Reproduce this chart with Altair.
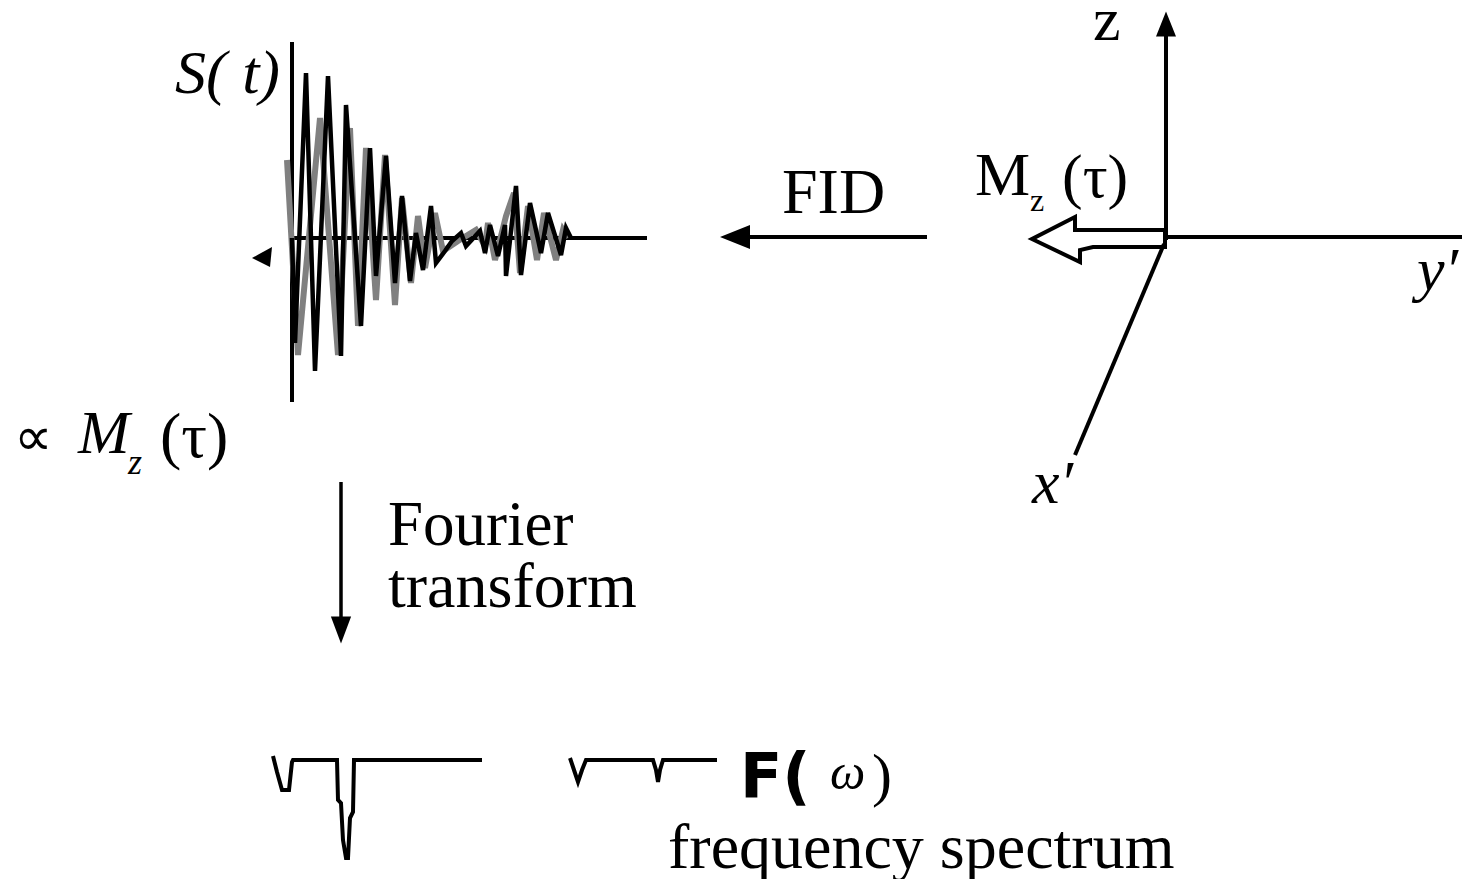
import altair as alt
import pandas as pd

# ---------------- values ----------------
# FID signal S(t): time from the vertical axis, amplitude above the baseline
fid_black_t = [0, 3, 14, 23, 36, 49, 54, 69, 78, 84, 94, 103, 110, 118, 124, 131,
               139, 144, 153, 160, 169, 174, 188, 193, 198, 206, 213, 214, 224, 229,
               238, 249, 256, 269, 274, 279]
fid_black_s = [0, -105, 165, -133, 162, -118, 133, -88, 90, -38, 82, -45, 42, -43, 5, -32,
               32, -25, -13, -3, 5, -8, 7, -15, 13, -18, 13, -38, 52, -37,
               35, -15, 25, -17, 10, 0]
fid_gray_t = [-5, 6, 28, 46, 58, 66, 74, 84, 93, 103, 110, 119, 126, 133, 143, 151,
              166, 184, 193, 196, 203, 214, 222, 228, 236, 245, 252, 264, 271, 276]
fid_gray_s = [78, -117, 120, -117, 110, -88, 90, -62, 83, -67, 40, -45, 22, -30, 25, -13,
              -3, 8, -8, 15, -22, 22, 45, -35, 32, -22, 25, -22, 8, 0]

# Frequency spectrum F(omega): frequency from the left end, intensity (dips are negative)
spec_a_f = [0, 4, 9, 16, 19, 20, 64, 65, 68, 70, 73, 75, 77, 80, 81, 209]
spec_a_i = [4, -12, -30, -30, -2, 0, 0, -40, -43, -80, -98, -98, -58, -52, 0, 0]
spec_b_f = [297, 301, 305, 309, 313, 380, 383, 385, 387, 390, 444]
spec_b_i = [2, -10, -22, -10, 0, 0, -10, -22, -10, 0, 0]

# ---------------- layout of the diagram (page pixels) ----------------
FID_X0, FID_Y0 = 292, 238
SPEC_X0, SPEC_Y0 = 273, 760

X = alt.X("x:Q", scale=alt.Scale(domain=[8, 1462], nice=False, zero=False), axis=None)
Y = alt.Y("y:Q", scale=alt.Scale(domain=[8, 879], reverse=True, nice=False, zero=False), axis=None)


def series(ts, vs, x0, y0, name):
    return pd.DataFrame({
        "x": [x0 + t for t in ts],
        "y": [y0 - v for v in vs],
        "i": list(range(len(ts))),
        "seg": name,
    })


fid_gray = series(fid_gray_t, fid_gray_s, FID_X0, FID_Y0, "gray")
fid_black = series(fid_black_t, fid_black_s, FID_X0, FID_Y0, "black")
spec = pd.concat([
    series(spec_a_f, spec_a_i, SPEC_X0, SPEC_Y0, "a"),
    series(spec_b_f, spec_b_i, SPEC_X0, SPEC_Y0, "b"),
])

layers = []

# straight lines: axes and arrow shafts
rules = pd.DataFrame([
    {"x": 292, "y": 42, "x2": 292, "y2": 402},      # S(t) axis
    {"x": 292, "y": 238, "x2": 647, "y2": 238},     # time axis
    {"x": 733, "y": 237, "x2": 927, "y2": 237},     # FID arrow
    {"x": 1166, "y": 33, "x2": 1166, "y2": 240},    # z axis
    {"x": 1166, "y": 237, "x2": 1470, "y2": 237},   # y' axis
    {"x": 1164, "y": 244, "x2": 1075, "y2": 455},   # x' axis
])
layers.append(alt.Chart(rules).mark_rule(color="black", strokeWidth=4).encode(
    x=X, y=Y, x2="x2:Q", y2="y2:Q"))
fourier_shaft = pd.DataFrame([{"x": 341, "y": 482, "x2": 341, "y2": 625}])
layers.append(alt.Chart(fourier_shaft).mark_rule(color="black", strokeWidth=3.5).encode(
    x=X, y=Y, x2="x2:Q", y2="y2:Q"))

# FID traces
layers.append(alt.Chart(fid_gray).mark_line(color="#808080", strokeWidth=6, strokeJoin="miter").encode(
    x=X, y=Y, order="i:Q"))
layers.append(alt.Chart(fid_black).mark_line(color="black", strokeWidth=4.5, strokeJoin="miter").encode(
    x=X, y=Y, order="i:Q"))

# spectrum
layers.append(alt.Chart(spec).mark_line(color="black", strokeWidth=4, strokeJoin="miter").encode(
    x=X, y=Y, order="i:Q", detail="seg:N"))

# hollow magnetisation arrow
hollow = pd.DataFrame({
    "x": [1165, 1075, 1075, 1032, 1080, 1080, 1093, 1165, 1165],
    "y": [230, 230, 217, 239, 262, 250, 247, 247, 230],
})
hollow["i"] = range(len(hollow))
layers.append(alt.Chart(hollow).mark_line(color="black", strokeWidth=4, strokeJoin="miter").encode(
    x=X, y=Y, order="i:Q"))

# arrowheads
heads = [
    {"x": 341, "y": 630, "shape": "M-0.75,-1L0.75,-1L0,1Z", "size": 729},
    {"x": 735, "y": 237, "shape": "M1,-0.8L-1,0L1,0.8Z", "size": 900},
    {"x": 1166, "y": 24, "shape": "M0,-1L0.8,1L-0.8,1Z", "size": 625},
    {"x": 262, "y": 257, "shape": "M-1,0.1L1,-1L0.8,1Z", "size": 400},
]
for h in heads:
    layers.append(alt.Chart(pd.DataFrame([h])).mark_point(
        shape=h["shape"], size=h["size"], filled=True, color="black", opacity=1, strokeWidth=0
    ).encode(x=X, y=Y))

# text
SERIF = "Liberation Serif"
texts = [
    ("S( t)", 175, 93, SERIF, 62, "italic", "normal"),
    ("∝", 14, 455, "DejaVu Sans", 54, "normal", "normal"),
    ("M", 78, 453, SERIF, 62, "italic", "normal"),
    ("z", 128, 474, SERIF, 36, "italic", "normal"),
    ("(τ)", 160, 457, SERIF, 64, "normal", "normal"),
    ("Fourier", 388, 545, SERIF, 63, "normal", "normal"),
    ("transform", 388, 607, SERIF, 64, "normal", "normal"),
    ("FID", 782, 213, SERIF, 64, "normal", "normal"),
    ("M", 975, 195, SERIF, 62, "normal", "normal"),
    ("z", 1030, 211, SERIF, 32, "normal", "normal"),
    ("(τ)", 1062, 197, SERIF, 62, "normal", "normal"),
    ("z", 1093, 40, SERIF, 62, "normal", "normal"),
    ("y′", 1417, 290, SERIF, 62, "italic", "normal"),
    ("x′", 1032, 503, SERIF, 62, "italic", "normal"),
    ("F(", 740, 797, "DejaVu Sans", 62, "normal", "bold"),
    ("ω", 830, 789, SERIF, 50, "italic", "normal"),
    (")", 872, 795, SERIF, 60, "normal", "normal"),
    ("frequency spectrum", 668, 868, SERIF, 64, "normal", "normal"),
]
for t, x, y, font, size, style, weight in texts:
    layers.append(alt.Chart(pd.DataFrame([{"x": x, "y": y, "text": t}])).mark_text(
        align="left", baseline="alphabetic", font=font, fontSize=size,
        fontStyle=style, fontWeight=weight, color="black"
    ).encode(x=X, y=Y, text="text:N"))

chart = alt.layer(*layers).properties(
    width=1454, height=871,
    autosize=alt.AutoSizeParams(type="none"),
    padding=0, background="white",
).configure_view(stroke=None)

chart.save("out.html", embed_options={"renderer": "svg", "actions": False})
